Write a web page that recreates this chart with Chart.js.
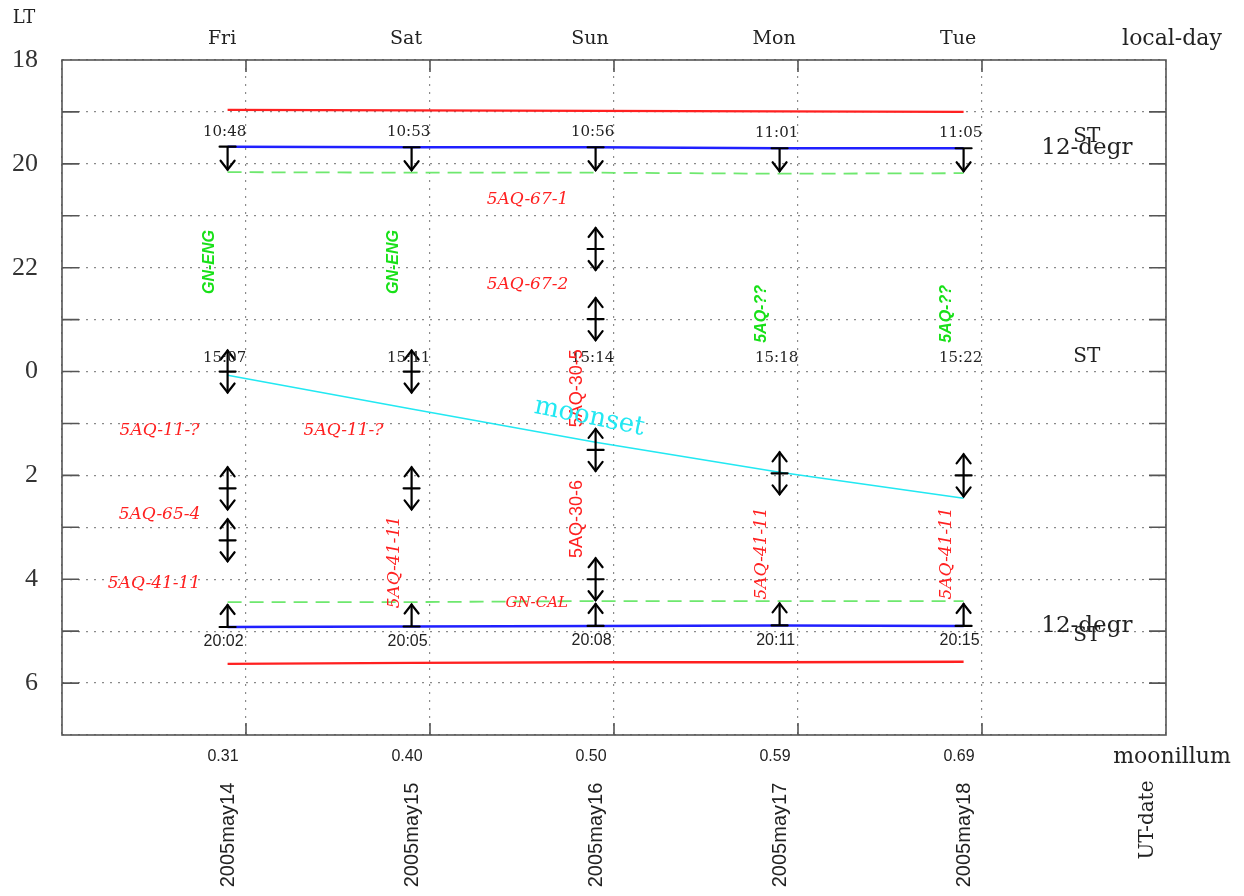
<!DOCTYPE html>
<html>
<head>
<meta charset="utf-8">
<script src="https://cdn.jsdelivr.net/npm/chart.js@4"></script>
<style>
  html, body { margin: 0; padding: 0; background: #fff; }
  #wrap { width: 1244px; height: 896px; }
</style>
</head>
<body>
<div id="wrap"><canvas id="c" width="1244" height="896"></canvas></div>
<script>
// one entry per night, x = days from Fri 0h UT-date grid line
const days = ['Fri', 'Sat', 'Sun', 'Mon', 'Tue'];
const utDates = ['2005may14', '2005may15', '2005may16', '2005may17', '2005may18'];
const moonIllum = ['0.31', '0.40', '0.50', '0.59', '0.69'];
const nightX = [-0.1, 0.9, 1.9, 2.9, 3.9];

// local time in hours, past midnight kept as 24+
const sunset = [18.96, 18.97, 18.98, 18.99, 19.00];
const eveTwilight = [19.67, 19.68, 19.68, 19.70, 19.70];
const eveDashed = [20.16, 20.17, 20.17, 20.19, 20.18];
const moonset = [24.07, 24.72, 25.36, 25.94, 26.44];
const mornDashed = [28.44, 28.44, 28.42, 28.42, 28.42];
const mornTwilight = [28.92, 28.91, 28.90, 28.89, 28.90];
const sunrise = [29.63, 29.61, 29.60, 29.60, 29.59];

// sidereal time at evening twilight, midnight, morning twilight
const eveST = ['10:48', '10:53', '10:56', '11:01', '11:05'];
const midST = ['15:07', '15:11', '15:14', '15:18', '15:22'];
const mornST = ['20:02', '20:05', '20:08', '20:11', '20:15'];

// program switch points (double arrows)
const switchNight = [0, 0, 0, 1, 1, 2, 2, 2, 2, 3, 4];
const switchHour = [24.0, 26.25, 27.25, 24.0, 26.25, 21.64, 22.99, 25.51, 28.0, 25.96, 26.0];

// program labels
const progNames = ['5AQ-67-1', '5AQ-67-2', '5AQ-11-?', '5AQ-11-?', '5AQ-65-4', '5AQ-41-11', 'GN-CAL',
  '5AQ-41-11', '5AQ-30-5', '5AQ-30-6', '5AQ-41-11', '5AQ-41-11',
  'GN-ENG', 'GN-ENG', '5AQ-??', '5AQ-??'];
const progX = [1.53, 1.53, -0.47, 0.53, -0.47, -0.50, 1.58, 0.81, 1.80, 1.80, 2.80, 3.81, -0.20, 0.80, 2.80, 3.81];
const progY = [20.68, 22.32, 25.13, 25.13, 26.75, 28.08, 28.46, 27.67, 24.32, 26.84, 27.50, 27.50, 21.89, 21.89, 22.89, 22.89];
const progKind = ['h', 'h', 'h', 'h', 'h', 'h', 'cal', 'v', 'vs', 'vs', 'v', 'v', 'eng', 'eng', 'eng', 'eng'];

const RED = '#ff2020', BLUE = '#2020ff', GREEN = '#6ee86e', CYAN = '#22e8f2', INK = '#222';
const SERIF = '"DejaVu Serif"', SANS = '"Liberation Sans"';

const kindStyle = {
  h: { font: 'italic 17px ' + SERIF, color: RED, rot: 0 },
  cal: { font: 'italic 15px ' + SERIF, color: RED, rot: 0 },
  v: { font: 'italic 17px ' + SERIF, color: RED, rot: -Math.PI / 2 },
  vs: { font: '18px ' + SANS, color: RED, rot: -Math.PI / 2 },
  eng: { font: 'bold italic 16px ' + SANS, color: '#18e018', rot: -Math.PI / 2 }
};

const text = (ctx, str, px, py, font, color, rot, align) => {
  ctx.save();
  ctx.translate(px, py);
  if (rot) ctx.rotate(rot);
  ctx.font = font;
  ctx.fillStyle = color;
  ctx.textAlign = align || 'center';
  ctx.textBaseline = 'middle';
  ctx.fillText(str, 0, 0);
  ctx.restore();
};

// chevron head, dir 1 points down, -1 points up
const head = (ctx, px, py, dir) => {
  ctx.beginPath();
  ctx.moveTo(px - 7, py - dir * 9);
  ctx.lineTo(px, py);
  ctx.lineTo(px + 7, py - dir * 9);
  ctx.stroke();
};

const overlay = {
  id: 'overlay',
  beforeDatasetsDraw(chart) {
    const { ctx, chartArea: a, scales: { x, y } } = chart;
    ctx.save();
    ctx.strokeStyle = '#555';
    ctx.lineWidth = 1.6;
    ctx.strokeRect(a.left, a.top, a.right - a.left, a.bottom - a.top);
    ctx.beginPath();
    y.ticks.forEach(t => {
      if (t.value <= y.min || t.value >= y.max) return;
      const py = y.getPixelForValue(t.value);
      ctx.moveTo(a.left, py); ctx.lineTo(a.left + 17, py);
      ctx.moveTo(a.right - 17, py); ctx.lineTo(a.right, py);
    });
    x.ticks.forEach(t => {
      if (t.value <= x.min || t.value >= x.max) return;
      const px = x.getPixelForValue(t.value);
      ctx.moveTo(px, a.top); ctx.lineTo(px, a.top + 12);
      ctx.moveTo(px, a.bottom - 12); ctx.lineTo(px, a.bottom);
    });
    ctx.stroke();
    ctx.restore();
  },
  afterDatasetsDraw(chart) {
    const { ctx, chartArea: a, scales: { x, y } } = chart;
    ctx.save();
    ctx.strokeStyle = '#000';
    ctx.lineWidth = 2.2;
    ctx.lineCap = 'round';

    nightX.forEach((nx, i) => {
      const px = x.getPixelForValue(nx);
      // evening twilight: bar with down arrow
      const ey = y.getPixelForValue(eveTwilight[i]);
      ctx.beginPath();
      ctx.moveTo(px - 8, ey); ctx.lineTo(px + 8, ey);
      ctx.moveTo(px, ey); ctx.lineTo(px, ey + 23);
      ctx.stroke();
      head(ctx, px, ey + 23, 1);
      // morning twilight: bar with up arrow
      const my = y.getPixelForValue(mornTwilight[i]);
      ctx.beginPath();
      ctx.moveTo(px - 8, my); ctx.lineTo(px + 8, my);
      ctx.moveTo(px, my); ctx.lineTo(px, my - 22);
      ctx.stroke();
      head(ctx, px, my - 22, -1);
    });

    switchHour.forEach((h, k) => {
      const px = x.getPixelForValue(nightX[switchNight[k]]);
      const py = y.getPixelForValue(h);
      ctx.beginPath();
      ctx.moveTo(px, py - 21); ctx.lineTo(px, py + 21);
      ctx.moveTo(px - 8, py); ctx.lineTo(px + 8, py);
      ctx.stroke();
      head(ctx, px, py - 21, -1);
      head(ctx, px, py + 21, 1);
    });
    ctx.restore();

    // sidereal time labels
    nightX.forEach((nx, i) => {
      const px = x.getPixelForValue(nx);
      text(ctx, eveST[i], px - 3, y.getPixelForValue(eveTwilight[i]) - 15, '15px ' + SERIF, INK);
      text(ctx, midST[i], px - 3, y.getPixelForValue(24) - 13, '15px ' + SERIF, INK);
      text(ctx, mornST[i], px - 4, y.getPixelForValue(mornTwilight[i]) + 15, '16px ' + SANS, INK);
    });

    // right-hand keys
    const rx = x.getPixelForValue(4.57);
    const eTop = y.getPixelForValue(eveTwilight[4]);
    const mTop = y.getPixelForValue(mornTwilight[4]);
    text(ctx, 'ST', rx, eTop - 11, '20px ' + SERIF, INK);
    text(ctx, '12-degr', rx, eTop, '23px ' + SERIF, INK);
    text(ctx, 'ST', rx, y.getPixelForValue(24) - 15, '20px ' + SERIF, INK);
    text(ctx, '12-degr', rx, mTop, '23px ' + SERIF, INK);
    text(ctx, 'ST', rx, mTop + 10, '20px ' + SERIF, INK);

    // program labels
    progNames.forEach((name, k) => {
      const s = kindStyle[progKind[k]];
      text(ctx, name, x.getPixelForValue(progX[k]), y.getPixelForValue(progY[k]), s.font, s.color, s.rot);
    });

    // moonset label
    text(ctx, 'moonset', x.getPixelForValue(1.866), y.getPixelForValue(24.88), '26px ' + SERIF, CYAN, 0.2);

    // axis texts outside the frame
    text(ctx, 'LT', 24, 18, '18px ' + SERIF, INK);
    days.forEach((d, i) => text(ctx, d, x.getPixelForValue(nightX[i] - 0.03), a.top - 21, '19px ' + SERIF, INK));
    text(ctx, 'local-day', 1172, a.top - 21, '22px ' + SERIF, INK);
    moonIllum.forEach((m, i) => text(ctx, m, x.getPixelForValue(nightX[i] - 0.025), a.bottom + 22, '16px ' + SANS, INK));
    text(ctx, 'moonillum', 1172, a.bottom + 22, '22px ' + SERIF, INK);
    utDates.forEach((u, i) => text(ctx, u, x.getPixelForValue(nightX[i]) + 1, a.bottom + 100, '20px ' + SANS, INK, -Math.PI / 2));
    text(ctx, 'UT-date', 1148, a.bottom + 85, '20px ' + SERIF, INK, -Math.PI / 2);
  }
};

const series = (vals, color, width, dash) => ({
  data: nightX.map((nx, i) => ({ x: nx, y: vals[i] })),
  borderColor: color,
  borderWidth: width,
  borderDash: dash || [],
  pointRadius: 0,
  showLine: true,
  fill: false
});

const gridOpts = { color: '#8a8a8a', lineWidth: 1.2, drawTicks: false };

new Chart(document.getElementById('c'), {
  type: 'scatter',
  data: {
    datasets: [
      series(sunset, RED, 2.4),
      series(sunrise, RED, 2.4),
      series(eveTwilight, BLUE, 2.4),
      series(mornTwilight, BLUE, 2.4),
      series(eveDashed, GREEN, 1.8, [14, 8]),
      series(mornDashed, GREEN, 1.8, [14, 8]),
      series(moonset, CYAN, 1.5)
    ]
  },
  options: {
    responsive: false,
    animation: false,
    layout: { padding: { top: 60, right: 78, left: 0, bottom: 0 } },
    plugins: { legend: { display: false }, tooltip: { enabled: false } },
    scales: {
      x: {
        type: 'linear', min: -1, max: 5,
        ticks: { stepSize: 1, display: false },
        grid: gridOpts,
        border: { display: false, dash: [2, 6] },
        afterFit: s => { s.height = 161; }
      },
      y: {
        type: 'linear', min: 18, max: 31, reverse: true,
        ticks: {
          stepSize: 1, padding: 24, autoSkip: false, color: '#333',
          font: { family: 'Liberation Serif', size: 26 },
          callback: v => v % 2 === 0 ? String(v >= 24 ? v - 24 : v) : ''
        },
        grid: gridOpts,
        border: { display: false, dash: [2, 6] },
        afterFit: s => { s.width = 62; }
      }
    }
  },
  plugins: [overlay]
});
</script>
</body>
</html>
